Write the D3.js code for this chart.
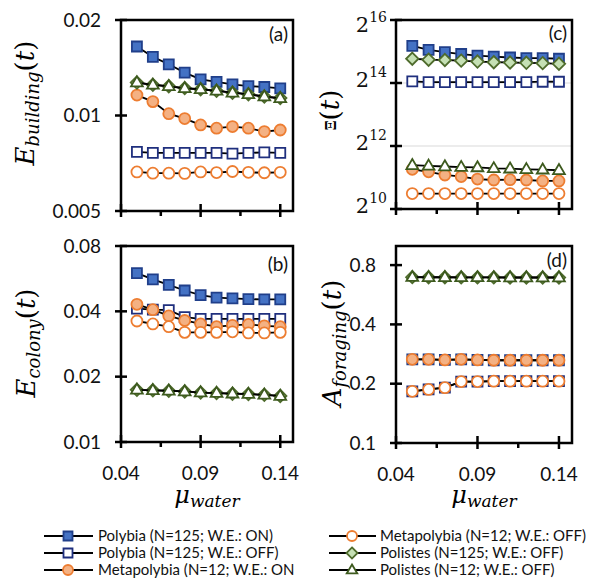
<!DOCTYPE html>
<html>
<head>
<meta charset="utf-8">
<script src="https://cdn.jsdelivr.net/npm/d3@7"></script>
<style>
  body { margin: 0; background: #fff; }
  svg { display: block; }
</style>
</head>
<body>
<svg id="chart" width="596" height="585"></svg>
<script>
// + -- data --------------------------------------------------------------- +
const muWater = [0.05, 0.06, 0.07, 0.08, 0.09, 0.10, 0.11, 0.12, 0.13, 0.14]

const seriesLabels = [
  'Polybia (N=125; W.E.: ON)',
  'Polybia (N=125; W.E.: OFF)',
  'Metapolybia (N=12; W.E.: ON',
  'Metapolybia (N=12; W.E.: OFF)',
  'Polistes (N=125; W.E.: OFF)',
  'Polistes (N=12; W.E.: OFF)'
]

// (a) E_building(t), one row per series, same order as seriesLabels
const eBuilding = [
  [0.0165, 0.0153, 0.0145, 0.01365, 0.0130, 0.01276, 0.01254, 0.01238, 0.0123, 0.01218],
  [0.00768, 0.00762, 0.00762, 0.00762, 0.00762, 0.00762, 0.00758, 0.00762, 0.00765, 0.00762],
  [0.0116, 0.01106, 0.01013, 0.00978, 0.00934, 0.00912, 0.00923, 0.00912, 0.0089, 0.009],
  [0.00664, 0.00658, 0.00658, 0.00657, 0.00664, 0.00661, 0.00666, 0.00662, 0.0066, 0.00662],
  [0.0127, 0.0125, 0.01237, 0.0122, 0.0121, 0.01197, 0.0118, 0.01167, 0.01148, 0.01135],
  [0.0127, 0.01249, 0.01236, 0.01218, 0.0121, 0.01196, 0.0118, 0.01166, 0.01147, 0.01133]
]

// (b) E_colony(t)
const eColony = [
  [0.0600, 0.0562, 0.0530, 0.0499, 0.0475, 0.0463, 0.0459, 0.0455, 0.0454, 0.0454],
  [0.0412, 0.0407, 0.0405, 0.0376, 0.0369, 0.0369, 0.0369, 0.0369, 0.0369, 0.0369],
  [0.0431, 0.0407, 0.0381, 0.0363, 0.0350, 0.0340, 0.0345, 0.0348, 0.0343, 0.0340],
  [0.0361, 0.0350, 0.0340, 0.0320, 0.0320, 0.0320, 0.0322, 0.0318, 0.0318, 0.0320],
  [0.0174, 0.0173, 0.01723, 0.0171, 0.0169, 0.0168, 0.0167, 0.01664, 0.0165, 0.0163],
  [0.0174, 0.0173, 0.01722, 0.0171, 0.0169, 0.0168, 0.0167, 0.01663, 0.0165, 0.0163]
]

// (c) Xi(t)
const xiValues = [
  [37120, 33920, 32320, 31000, 29940, 29330, 28720, 28330, 28330, 27940],
  [16960, 16730, 16730, 16730, 16730, 16730, 16730, 16730, 16850, 16850],
  [2452, 2320, 2165, 2091, 1978, 1938, 1951, 1938, 1898, 1898],
  [1438, 1438, 1438, 1438, 1438, 1438, 1438, 1438, 1438, 1438],
  [27940, 27360, 27180, 26800, 26250, 25890, 25710, 25530, 25360, 25010],
  [2684, 2647, 2610, 2574, 2557, 2504, 2487, 2452, 2435, 2402]
]

// (d) A_foraging(t)
const aForaging = [
  [0.266, 0.266, 0.264, 0.266, 0.264, 0.263, 0.263, 0.263, 0.263, 0.263],
  [0.183, 0.187, 0.191, 0.205, 0.205, 0.206, 0.206, 0.206, 0.206, 0.206],
  [0.266, 0.266, 0.264, 0.266, 0.264, 0.263, 0.263, 0.263, 0.263, 0.263],
  [0.183, 0.187, 0.191, 0.205, 0.205, 0.206, 0.206, 0.206, 0.206, 0.206],
  [0.695, 0.694, 0.694, 0.693, 0.693, 0.693, 0.692, 0.692, 0.692, 0.692],
  [0.695, 0.694, 0.694, 0.693, 0.693, 0.693, 0.692, 0.692, 0.692, 0.692]
]

const xMajorTicks = [0.04, 0.09, 0.14]
const xMinorTicks = [0.065, 0.115]
const xTickLabels = ['0.04', '0.09', '0.14']

const yTicksA = [0.005, 0.01, 0.02]
const yLabelsA = ['0.005', '0.01', '0.02']
const yTicksB = [0.01, 0.02, 0.04, 0.08]
const yLabelsB = ['0.01', '0.02', '0.04', '0.08']
const yTicksC = [1024, 4096, 16384, 65536]
const yPowersC = ['10', '12', '14', '16']
const yTicksD = [0.1, 0.2, 0.4, 0.8]
const yLabelsD = ['0.1', '0.2', '0.4', '0.8']

// + -- styles ------------------------------------------------------------------ +
const seriesStyle = [
  {shape: 'square', fill: '#4472C4', stroke: '#203F8A'},
  {shape: 'square', fill: '#ffffff', stroke: '#1F2F7E'},
  {shape: 'circle', fill: '#F4B183', stroke: '#ED7D31'},
  {shape: 'circle', fill: '#ffffff', stroke: '#ED7D31'},
  {shape: 'diamond', fill: '#C5E0B4', stroke: '#4E6B2C'},
  {shape: 'triangle', fill: '#ffffff', stroke: '#3D5A1E'}
]

const TICK_FONT = 'Lato, "Open Sans", sans-serif'
const MATH_FONT = '"DejaVu Serif", "Liberation Serif", serif'

const svg = d3.select('#chart')

const panels = [
  {data: eBuilding, x0: 121, x1: 293, y0: 20, y1: 211, domain: [0.005, 0.02], base: 10,
   ticks: yTicksA, labels: yLabelsA, tag: '(a)', tagDy: 21, showX: false,
   main: 'E', sub: 'building', lx: 34, ly: 103},
  {data: xiValues, x0: 396, x1: 572, y0: 20, y1: 209, domain: [1024, 65536], base: 2,
   ticks: yTicksC, powers: yPowersC, grid: [4096, 16384], tag: '(c)', tagDy: 20, showX: false,
   main: 'Ξ', sub: '', lx: 339, ly: 110},
  {data: eColony, x0: 121, x1: 293, y0: 246, y1: 442, domain: [0.01, 0.08], base: 10,
   ticks: yTicksB, labels: yLabelsB, tag: '(b)', tagDy: 25, showX: true,
   main: 'E', sub: 'colony', lx: 35, ly: 343},
  {data: aForaging, x0: 396, x1: 572, y0: 246, y1: 443, domain: [0.1, 1], base: 10,
   ticks: yTicksD, labels: yLabelsD, tag: '(d)', tagDy: 21, showX: true,
   main: 'A', sub: 'foraging', lx: 341, ly: 343}
]

function markerPath (shape, s) {
  if (shape === 'square') return d3.symbol().type(d3.symbolSquare).size(s * s)()
  if (shape === 'circle') return d3.symbol().type(d3.symbolCircle).size(Math.PI * (s / 2 + 0.5) * (s / 2 + 0.5))()
  if (shape === 'diamond') {
    let h = s * 0.62
    return 'M0,' + (-h) + 'L' + h + ',0L0,' + h + 'L' + (-h) + ',0Z'
  }
  let r = s * 0.62
  return 'M0,' + (-r) + 'L' + (r * 0.95) + ',' + (r * 0.62) + 'L' + (-r * 0.95) + ',' + (r * 0.62) + 'Z'
}

function drawMarker (g, st, x, y, s) {
  g.append('path')
    .attr('d', markerPath(st.shape, s))
    .attr('transform', 'translate(' + x + ',' + y + ')')
    .attr('fill', st.fill)
    .attr('stroke', st.stroke)
    .attr('stroke-width', 1.8)
}

function yAxisLabel (g, p) {
  let t = g.append('text')
    .attr('transform', 'translate(' + p.lx + ',' + p.ly + ') rotate(-90)')
    .attr('text-anchor', 'middle')
    .attr('font-family', MATH_FONT)
    .attr('fill', '#000')
  if (p.sub) {
    t.append('tspan').text(p.main).attr('font-size', 26).attr('font-style', 'italic')
    t.append('tspan').text(p.sub).attr('font-size', 18).attr('font-style', 'italic').attr('dy', 5)
    t.append('tspan').text('(').attr('font-size', 26).attr('dy', -5)
  } else {
    t.append('tspan').text(p.main).attr('font-size', 14).attr('font-weight', 700).attr('dy', -3)
    t.append('tspan').text('(').attr('font-size', 26).attr('dy', 3)
  }
  t.append('tspan').text('t').attr('font-size', 26).attr('font-style', 'italic')
  t.append('tspan').text(')').attr('font-size', 26)
}

panels.forEach(p => {
  let g = svg.append('g')
  let x = d3.scaleLinear().domain([0.04, 0.148]).range([p.x0, p.x1])
  let y = d3.scaleLog().base(p.base).domain(p.domain).range([p.y1, p.y0])

  // grid lines (only panel c has them)
  ;(p.grid || []).forEach(v => {
    g.append('line')
      .attr('x1', p.x0).attr('x2', p.x1)
      .attr('y1', y(v)).attr('y2', y(v))
      .attr('stroke', '#d9d9d9').attr('stroke-width', 1.2)
  })

  // series: line then markers, one after the other
  let line = d3.line().x((d, i) => x(muWater[i])).y(d => y(d))
  p.data.forEach((vals, si) => {
    g.append('path')
      .attr('d', line(vals))
      .attr('fill', 'none')
      .attr('stroke', '#000')
      .attr('stroke-width', 1.8)
    vals.forEach((v, i) => drawMarker(g, seriesStyle[si], x(muWater[i]), y(v), 10))
  })

  // frame
  g.append('rect')
    .attr('x', p.x0).attr('y', p.y0)
    .attr('width', p.x1 - p.x0).attr('height', p.y1 - p.y0)
    .attr('fill', 'none').attr('stroke', '#000').attr('stroke-width', 2.5)

  // y ticks, crossing the axis
  p.ticks.forEach((v, i) => {
    let ty = y(v)
    g.append('line')
      .attr('x1', p.x0 - 6).attr('x2', p.x0 + 6)
      .attr('y1', ty).attr('y2', ty)
      .attr('stroke', '#000').attr('stroke-width', 2.5)
    if (p.powers) {
      let t = g.append('text')
        .attr('x', p.x0 - 9).attr('y', Math.max(ty + 4, 32))
        .attr('text-anchor', 'end')
        .attr('font-family', MATH_FONT)
        .attr('fill', '#111')
      t.append('tspan').text('2').attr('font-size', 21)
      t.append('tspan').text(p.powers[i]).attr('font-size', 14).attr('dy', -10)
    } else {
      g.append('text')
        .attr('x', p.x0 - 20).attr('y', ty)
        .attr('dy', '0.35em')
        .attr('text-anchor', 'end')
        .attr('font-family', TICK_FONT)
        .attr('font-size', 19)
        .attr('fill', '#111')
        .text(p.labels[i])
    }
  })

  // x ticks
  xMajorTicks.forEach((v, i) => {
    g.append('line')
      .attr('x1', x(v)).attr('x2', x(v))
      .attr('y1', p.y1 - 7).attr('y2', p.y1 + 6)
      .attr('stroke', '#000').attr('stroke-width', 2.5)
    if (p.showX) {
      g.append('text')
        .attr('x', x(v)).attr('y', p.y1 + 31)
        .attr('dy', '0.35em')
        .attr('text-anchor', 'middle')
        .attr('font-family', TICK_FONT)
        .attr('font-size', 19)
        .attr('fill', '#111')
        .text(xTickLabels[i])
    }
  })
  xMinorTicks.forEach(v => {
    g.append('line')
      .attr('x1', x(v)).attr('x2', x(v))
      .attr('y1', p.y1).attr('y2', p.y1 + 5)
      .attr('stroke', '#000').attr('stroke-width', 2.5)
  })

  // panel tag
  g.append('text')
    .attr('x', p.x1 - 5).attr('y', p.y0 + p.tagDy)
    .attr('text-anchor', 'end')
    .attr('font-family', TICK_FONT)
    .attr('font-size', 19)
    .attr('fill', '#111')
    .text(p.tag)

  yAxisLabel(g, p)

  if (p.showX) {
    let t = g.append('text')
      .attr('x', (p.x0 + p.x1) / 2).attr('y', 503)
      .attr('text-anchor', 'middle')
      .attr('font-family', MATH_FONT)
      .attr('font-style', 'italic')
      .attr('fill', '#000')
    t.append('tspan').text('μ').attr('font-size', 24)
    t.append('tspan').text('water').attr('font-size', 17).attr('dy', 4)
  }
})

// + -- legend ------------------------------------------------------------------ +
const legendCols = [
  {lineX0: 44, lineX1: 93, markX: 68, textX: 98},
  {lineX0: 329, lineX1: 376, markX: 352, textX: 380}
]
const legendRowY = [536, 553, 570]

let lg = svg.append('g')
seriesLabels.forEach((name, i) => {
  let c = legendCols[Math.floor(i / 3)]
  let ly = legendRowY[i % 3]
  lg.append('line')
    .attr('x1', c.lineX0).attr('x2', c.lineX1)
    .attr('y1', ly).attr('y2', ly)
    .attr('stroke', '#000').attr('stroke-width', 2)
  drawMarker(lg, seriesStyle[i], c.markX, ly, 9)
  lg.append('text')
    .attr('x', c.textX).attr('y', ly)
    .attr('dy', '0.35em')
    .attr('font-family', TICK_FONT)
    .attr('font-size', 15)
    .attr('fill', '#111')
    .text(name)
})
</script>
</body>
</html>
